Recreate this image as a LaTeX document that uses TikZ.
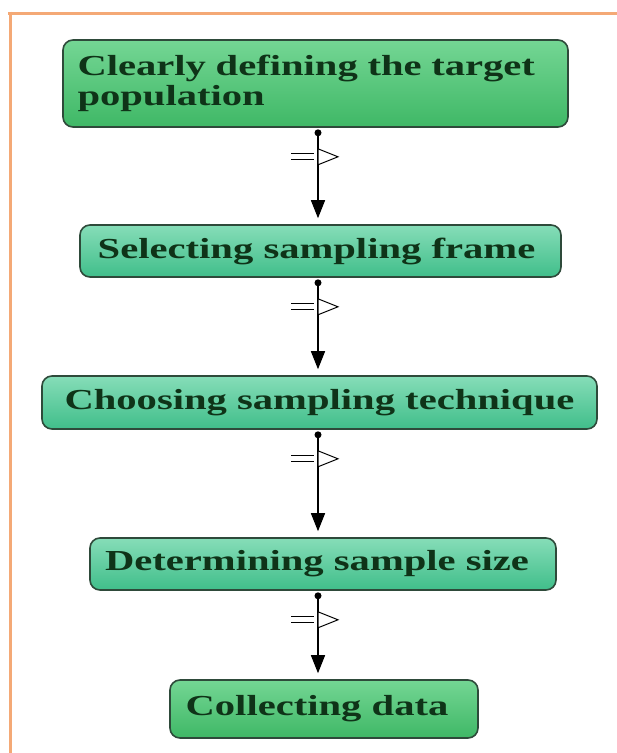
\documentclass[tikz,border=0pt]{standalone}
\usepackage{fontspec}
\setmainfont[FakeStretch=1.4]{Liberation Serif}
\usetikzlibrary{arrows.meta,calc}
\definecolor{frameor}{HTML}{F4A976}
\definecolor{txtgreen}{HTML}{0F3318}
\definecolor{edgegreen}{HTML}{2E4A3A}
\definecolor{gtopA}{HTML}{74D694}
\definecolor{gbotA}{HTML}{3FB866}
\definecolor{gtopB}{HTML}{86DDB8}
\definecolor{gbotB}{HTML}{40BE8A}
\tikzset{
  stepbox/.style={draw=edgegreen, line width=1.6pt, rounded corners=10pt,
    font=\bfseries\fontsize{29}{33}\selectfont, text=txtgreen, inner sep=0pt},
  greenbox/.style={stepbox, top color=gtopA, bottom color=gbotA},
  tealbox/.style={stepbox, top color=gtopB, bottom color=gbotB},
  flow/.style={line width=1.4pt, -{Triangle[width=14pt,length=18pt]}},
  eqtri/.pic={
    \draw[line width=1.2pt] (-27pt,3pt) -- (-4pt,3pt) (-27pt,-3pt) -- (-4pt,-3pt);
    \draw[line width=1pt, fill=white] (0,8pt) -- (20pt,0) -- (0,-8pt) -- cycle;
  }
}
\begin{document}
\begin{tikzpicture}[x=1pt,y=-1pt]
\useasboundingbox (0,0) rectangle (617,753);
% frame
\draw[frameor, line width=3pt] (8,13) -- (617,13);
\draw[frameor, line width=3pt] (10,11.5) -- (10,753);
% boxes
\node[greenbox, minimum width=505pt, minimum height=87pt,
  text width=476pt, align=left] (b1) at (315.5,83.5)
  {Clearly defining the target\\[-3pt]population};
\node[tealbox, minimum width=481pt, minimum height=52pt] (b2) at (320.5,251)
  {\hspace*{-8pt}Selecting sampling frame};
\node[tealbox, minimum width=555pt, minimum height=53pt] (b3) at (319.5,402.5)
  {Choosing sampling technique};
\node[tealbox, minimum width=466pt, minimum height=52pt] (b4) at (323,564)
  {\hspace*{-12pt}Determining sample size};
\node[greenbox, minimum width=308pt, minimum height=58pt] (b5) at (324,709)
  {\hspace*{-14pt}Collecting data};
\coordinate (ax) at (318,0);
% connectors
\foreach \a/\b in {b1/b2,b2/b3,b3/b4,b4/b5}{
  \coordinate (s) at ($(\a.south -| ax)+(0,5)$);
  \coordinate (e) at ($(\b.north -| ax)+(0,-6)$);
  \draw[flow] (s) -- (e);
  \fill (s) circle (3.5pt);
  \pic at ($(s)+(0,24)$) {eqtri};
}
\end{tikzpicture}
\end{document}
